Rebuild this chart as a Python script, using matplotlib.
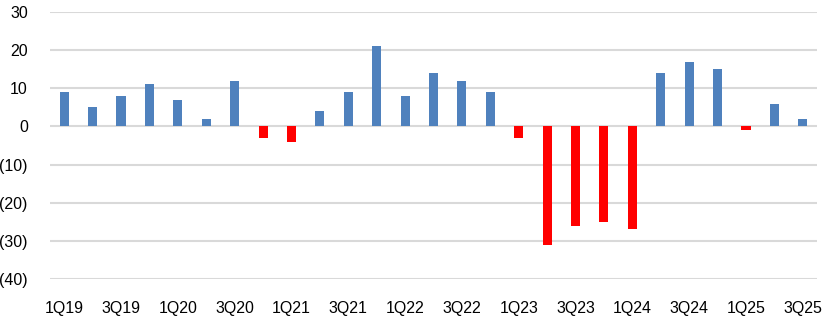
import matplotlib.pyplot as plt
import numpy as np

quarters = ["1Q19", "2Q19", "3Q19", "4Q19", "1Q20", "2Q20", "3Q20", "4Q20",
            "1Q21", "2Q21", "3Q21", "4Q21", "1Q22", "2Q22", "3Q22", "4Q22",
            "1Q23", "2Q23", "3Q23", "4Q23", "1Q24", "2Q24", "3Q24", "4Q24",
            "1Q25", "2Q25", "3Q25"]
values = [9, 5, 8, 11, 7, 2, 12, -3, -4, 4, 9, 21, 8, 14, 12, 9,
          -3, -31, -26, -25, -27, 14, 17, 15, -1, 6, 2]
yticks = [30, 20, 10, 0, -10, -20, -30, -40]

plt.rcParams["font.family"] = ["Liberation Sans", "DejaVu Sans"]

fig = plt.figure(figsize=(8.31, 3.17), dpi=100)
ax = fig.add_axes([50 / 831, 1 - 279 / 317, 767 / 831, 267 / 317])

x = np.arange(len(quarters))
colors = ["#4F81BD" if v >= 0 else "#FF0000" for v in values]
ax.bar(x, values, width=0.32, color=colors, zorder=3)

ax.set_xlim(-0.5, len(quarters) - 0.5)
ax.set_ylim(-40, 30)
ax.set_yticks(yticks)
ax.set_yticklabels([str(v) if v >= 0 else f"({-v})" for v in yticks])
ax.set_xticks(x[::2])
ax.set_xticklabels(quarters[::2])
ax.tick_params(length=0, labelsize=11.5, colors="#000000")
ax.tick_params(axis="y", pad=16)
ax.tick_params(axis="x", pad=16)
ax.grid(axis="y", color="#D9D9D9", linewidth=1.5, zorder=0)
for s in ax.spines.values():
    s.set_visible(False)

fig.savefig("out.png", dpi=100)
